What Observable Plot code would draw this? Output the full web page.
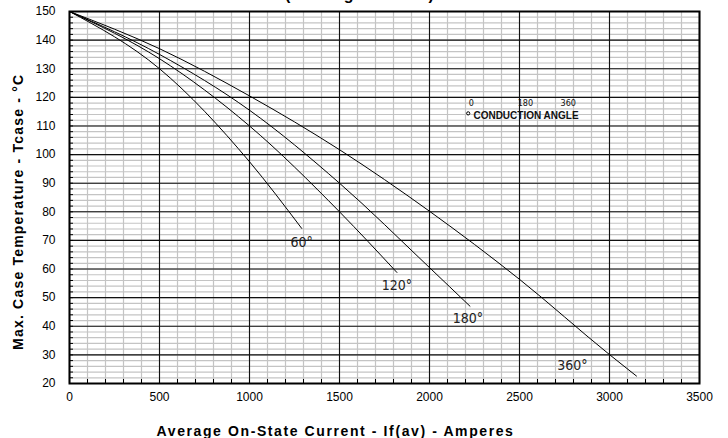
<!DOCTYPE html>
<html>
<head>
<meta charset="utf-8">
<script src="https://cdn.jsdelivr.net/npm/d3@7"></script>
<script src="https://cdn.jsdelivr.net/npm/@observablehq/plot@0.6"></script>
<style>
  html, body { margin: 0; padding: 0; background: #fff; }
  #chart svg { display: block; }
</style>
</head>
<body>
<div id="chart"></div>
<script>
// Axis ticks
const xTicks = [0, 500, 1000, 1500, 2000, 2500, 3000, 3500];
const yTicks = [20, 30, 40, 50, 60, 70, 80, 90, 100, 110, 120, 130, 140, 150];
const xMinor = d3.range(0, 3501, 100);
const yMinor = d3.range(20, 151, 2);

// Series (Average current in A, max case temperature in °C)
const i60 = [0, 500, 1000, 1290];
const t60 = [150, 130, 97.5, 74.2];
const i120 = [0, 500, 1000, 1500, 1819];
const t120 = [150, 133.5, 110, 80, 58.8];
const i180 = [0, 500, 1000, 1500, 2000, 2225];
const t180 = [150, 135, 115.5, 90, 60.5, 47];
const i360 = [0, 500, 1000, 1500, 2000, 2500, 3000, 3150];
const t360 = [150, 137, 120.5, 101.7, 80.2, 56.4, 30.1, 22.6];

const seriesNames = ["60°", "120°", "180°", "360°"];
const seriesI = [i60, i120, i180, i360];
const seriesT = [t60, t120, t180, t360];

const xTitle = "Average On-State Current - If(av) - Amperes";
const yTitle = "Max. Case Temperature - Tcase - °C";
const topTitle = "(Rectangular Wave)";

const rows = [];
seriesNames.forEach((name, k) => {
  seriesI[k].forEach((v, j) => rows.push({series: name, current: v, temp: seriesT[k][j]}));
});
const ends = seriesNames.map((name, k) => ({
  series: name,
  current: seriesI[k][seriesI[k].length - 1],
  temp: seriesT[k][seriesT[k].length - 1]
}));
const labelOffsets = {"60°": [0, 14], "120°": [0, 13], "180°": [-2, 12], "360°": [-64, -11]};

const narrow = "'Liberation Sans Narrow', 'DejaVu Sans Condensed', 'Arial Narrow', sans-serif";

const chart = Plot.plot({
  width: 728,
  height: 438,
  marginLeft: 69,
  marginRight: 29,
  marginTop: 11,
  marginBottom: 55,
  style: {fontFamily: "'Liberation Sans', Arial, sans-serif", fontSize: "12px", color: "#000", background: "#fff"},
  x: {domain: [0, 3500]},
  y: {domain: [20, 150]},
  marks: [
    Plot.ruleX(xMinor, {stroke: "#c4c4c4", strokeWidth: 1.2}),
    Plot.ruleY(yMinor, {stroke: "#c4c4c4", strokeWidth: 1.2}),
    Plot.ruleX(xTicks, {stroke: "#111", strokeWidth: 1.1}),
    Plot.ruleY(yTicks, {stroke: "#111", strokeWidth: 1.1}),
    Plot.line(rows, {x: "current", y: "temp", z: "series", curve: "monotone-x", stroke: "#000", strokeWidth: 1}),
    ...ends.map(d => Plot.text([d], {
      x: "current", y: "temp", text: "series",
      dx: labelOffsets[d.series][0], dy: labelOffsets[d.series][1],
      fontFamily: narrow, fontSize: 14, fill: "#222", textAnchor: "middle", lineAnchor: "middle"
    })),
    // conduction angle annotation
    Plot.dot([0], {x: 2215, y: 114.4, r: 1.6, stroke: "#000", strokeWidth: 1, fill: "none"}),
    Plot.text(["CONDUCTION ANGLE"], {x: 2244, y: 113.7, textAnchor: "start", lineAnchor: "middle", fontSize: 10, fontWeight: "bold", fill: "#111"}),
    Plot.text(["0", "180", "360"], {x: [2232, 2533, 2771], y: [118, 118, 118], textAnchor: "middle", lineAnchor: "middle", fontSize: 9, fontFamily: narrow, fill: "#111"}),
    Plot.frame({stroke: "#000", strokeWidth: 2}),
    // inward minor ticks
    Plot.axisX({ticks: xMinor, tickSize: -4, tickFormat: () => "", label: null}),
    Plot.axisY({ticks: yMinor, tickSize: -4, tickFormat: () => "", label: null}),
    Plot.axisX({ticks: xTicks, tickSize: 0, tickPadding: 9, fontSize: 12, tickFormat: d3.format("d"), label: null}),
    Plot.axisY({ticks: yTicks, tickSize: 0, tickPadding: 14, fontSize: 12, tickFormat: d3.format("d"), label: null}),
    // axis titles
    Plot.text([xTitle], {x: 1478, frameAnchor: "bottom", dy: 48, fontWeight: "bold", fontSize: 14, fill: "#000", lineAnchor: "middle"}),
    Plot.text([yTitle], {y: 80, frameAnchor: "left", dx: -51, rotate: -90, textAnchor: "middle", lineAnchor: "middle", fontWeight: "bold", fontSize: 14, fill: "#000"}),
    Plot.text([topTitle], {x: 1611, frameAnchor: "top", dy: -12, fontWeight: "bold", fontSize: 16, fill: "#000", lineAnchor: "bottom"})
  ]
});
d3.select(chart).selectAll("text")
  .filter(function() { return this.textContent === xTitle; })
  .style("letter-spacing", "1.6px");
d3.select(chart).selectAll("text")
  .filter(function() { return this.textContent === yTitle; })
  .style("letter-spacing", "1.2px");
document.getElementById("chart").appendChild(chart);
</script>
</body>
</html>
